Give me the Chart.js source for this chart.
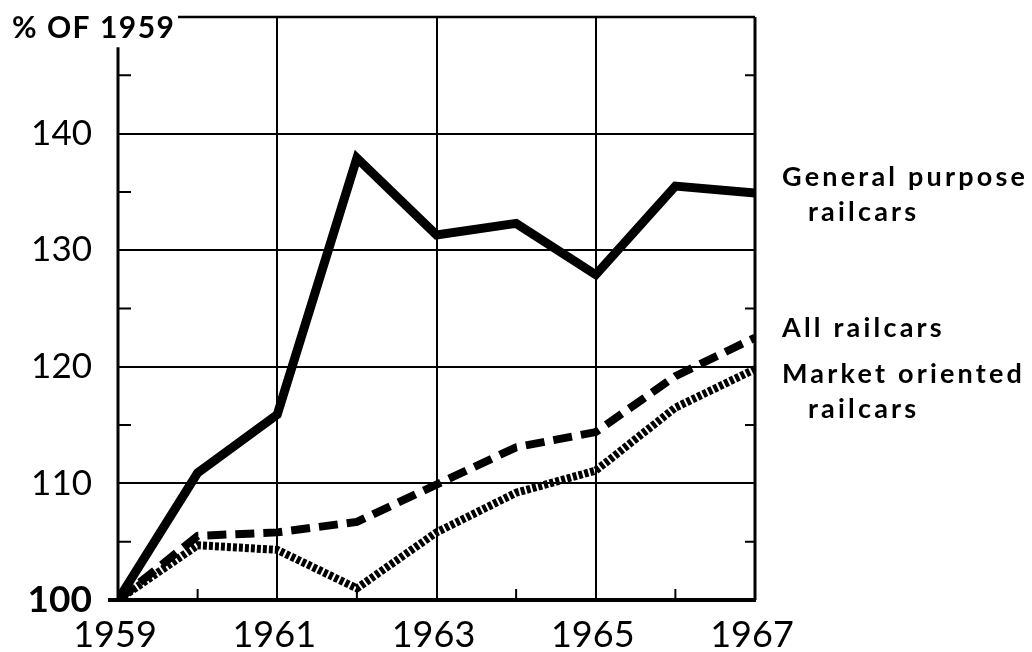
<!DOCTYPE html>
<html>
<head>
<meta charset="utf-8">
<script src="https://cdn.jsdelivr.net/npm/chart.js@4.4.1/dist/chart.umd.min.js"></script>
<style>
  body { margin: 0; background: #fff; }
  #wrap { width: 1032px; height: 652px; position: relative; }
</style>
</head>
<body>
<div id="wrap"><canvas id="railChart"></canvas></div>
<script>
const years = [1959, 1960, 1961, 1962, 1963, 1964, 1965, 1966, 1967];
const generalPurpose = [100, 110.9, 115.9, 137.9, 131.3, 132.3, 127.9, 135.5, 134.9];
const allRailcars = [100, 105.5, 105.8, 106.7, 109.9, 113.1, 114.4, 119.2, 122.5];
const marketOriented = [100, 104.7, 104.3, 101.0, 105.8, 109.2, 111.1, 116.5, 119.8];
const yTicks = [100, 110, 120, 130, 140];
const xLabelYears = [1959, 1961, 1963, 1965, 1967];
const seriesLabels = [
  { lines: ['General purpose', 'railcars'], y: 186 },
  { lines: ['All railcars'], y: 337 },
  { lines: ['Market oriented', 'railcars'], y: 383 }
];

const FONT = 'Lato, "DejaVu Sans", sans-serif';
const ctxEl = document.getElementById('railChart');

function pts(values) {
  return years.map((yr, i) => ({ x: yr, y: values[i] }));
}

// frame, small ticks, year labels and side text
const framePlugin = {
  id: 'frame',
  afterDraw(chart) {
    const c = chart.ctx;
    const xs = chart.scales.x;
    const ys = chart.scales.y;
    const L = xs.left, R = xs.right, T = ys.top, B = ys.bottom;
    c.save();
    c.strokeStyle = '#000';
    c.lineCap = 'butt';

    // left axis (open at the top)
    c.lineWidth = 3;
    c.beginPath();
    c.moveTo(L, ys.getPixelForValue(147.4));
    c.lineTo(L, B);
    c.stroke();

    // top border, starts after the title
    c.lineWidth = 2.5;
    c.beginPath();
    c.moveTo(178, T);
    c.lineTo(R, T);
    c.stroke();

    // right border
    c.lineWidth = 3;
    c.beginPath();
    c.moveTo(R, T);
    c.lineTo(R, B);
    c.stroke();

    // bottom axis
    c.lineWidth = 4;
    c.beginPath();
    c.moveTo(L - 10, B);
    c.lineTo(R + 1, B);
    c.stroke();

    // minor ticks on both sides
    c.lineWidth = 2;
    for (let v = 105; v < 150; v += 10) {
      const py = ys.getPixelForValue(v);
      c.beginPath();
      c.moveTo(L, py); c.lineTo(L + 13, py);
      c.moveTo(R, py); c.lineTo(R - 10, py);
      c.stroke();
    }
    for (let yr = 1960; yr < 1967; yr += 2) {
      const px = xs.getPixelForValue(yr);
      c.beginPath();
      c.moveTo(px, B); c.lineTo(px, B - 11);
      c.stroke();
    }

    c.fillStyle = '#000';
    c.textBaseline = 'alphabetic';

    // year labels
    c.textAlign = 'center';
    c.font = '36px ' + FONT;
    xLabelYears.forEach(yr => {
      c.fillText(String(yr), xs.getPixelForValue(yr) - 3, 647);
    });

    // title
    c.textAlign = 'left';
    c.font = 'bold 30px ' + FONT;
    c.letterSpacing = '1.5px';
    c.fillText('% OF 1959', 12, 38);

    // side labels
    c.font = 'bold 27px ' + FONT;
    c.letterSpacing = '3.2px';
    seriesLabels.forEach(s => {
      s.lines.forEach((t, i) => {
        c.fillText(t, i === 0 ? 782 : 808, s.y + i * 35);
      });
    });
    c.restore();
  }
};

new Chart(ctxEl, {
  type: 'line',
  data: {
    datasets: [
      {
        label: 'General purpose railcars',
        data: pts(generalPurpose),
        borderColor: '#000',
        borderWidth: 9,
        borderJoinStyle: 'miter',
        pointRadius: 0,
        tension: 0
      },
      {
        label: 'All railcars',
        data: pts(allRailcars),
        borderColor: '#000',
        borderWidth: 8,
        borderDash: [19, 9],
        pointRadius: 0,
        tension: 0
      },
      {
        label: 'Market oriented railcars',
        data: pts(marketOriented),
        borderColor: '#000',
        borderWidth: 8,
        borderDash: [4, 2],
        pointRadius: 0,
        tension: 0
      }
    ]
  },
  options: {
    responsive: true,
    maintainAspectRatio: false,
    animation: false,
    layout: { padding: { top: 17, right: 277, left: 0, bottom: 0 } },
    plugins: {
      legend: { display: false },
      tooltip: { enabled: false }
    },
    scales: {
      x: {
        type: 'linear',
        min: 1959,
        max: 1967,
        afterFit(scale) {
          scale.height = 52;
          scale.paddingLeft = 0;
          scale.paddingRight = 0;
        },
        border: { display: false },
        grid: {
          drawTicks: false,
          lineWidth: 2,
          color: ctx => [1961, 1963, 1965].includes(ctx.tick && ctx.tick.value) ? '#000' : 'rgba(0,0,0,0)'
        },
        ticks: {
          stepSize: 1,
          autoSkip: false,
          display: false
        }
      },
      y: {
        min: 100,
        max: 150,
        afterFit(scale) {
          scale.width = 118;
          scale.paddingTop = 0;
          scale.paddingBottom = 0;
        },
        border: { display: false },
        grid: {
          drawTicks: false,
          lineWidth: 2,
          color: ctx => [110, 120, 130, 140].includes(ctx.tick && ctx.tick.value) ? '#000' : 'rgba(0,0,0,0)'
        },
        ticks: {
          stepSize: 10,
          padding: 26,
          color: '#000',
          font: ctx => (ctx.tick && ctx.tick.value === 100)
            ? { family: FONT, size: 37, weight: 'bold' }
            : { family: FONT, size: 35 },
          callback: v => yTicks.includes(v) ? String(v) : ''
        }
      }
    }
  },
  plugins: [framePlugin]
});
</script>
</body>
</html>
